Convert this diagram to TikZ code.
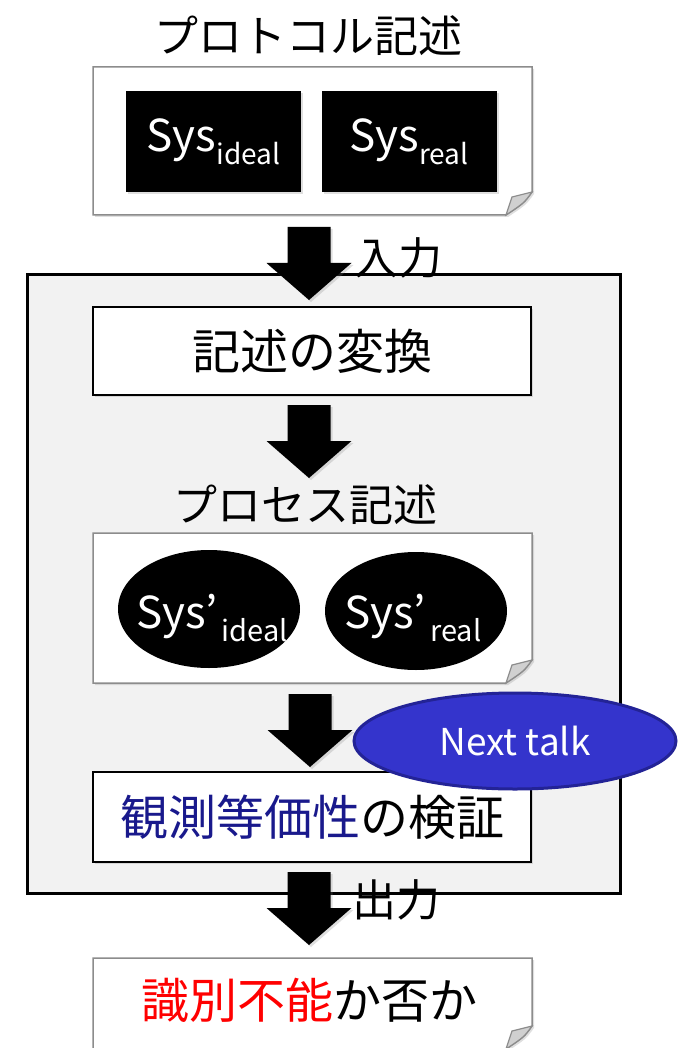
\documentclass[tikz,border=0pt]{standalone}
\usepackage{fontspec}
\newfontfamily\jp{Noto Sans CJK JP}
\usetikzlibrary{shapes.geometric,shadows}
\definecolor{panelgray}{HTML}{F2F2F2}
\definecolor{docgray}{HTML}{8C8C8C}
\definecolor{foldgray}{HTML}{D0D0D0}
\definecolor{navyblue}{RGB}{25,25,140}
\definecolor{talkblue}{RGB}{52,52,204}
\definecolor{talkedge}{RGB}{35,35,150}
\tikzset{
  softshadow/.style={drop shadow={opacity=0.25,shadow xshift=2pt,shadow yshift=-2pt}},
  bigtext/.style={font=\jp\fontsize{48}{56}\selectfont},
  doclabel/.style={font=\jp\fontsize{44}{52}\selectfont},
  arrowlabel/.style={font=\jp\fontsize{44}{52}\selectfont},
  docarea/.style={inner sep=0pt, outer sep=0pt},
  blackbox/.style={rectangle, fill=black, text=white, minimum width=175pt, minimum height=101pt, inner sep=0pt, softshadow},
  blackoval/.style={ellipse, fill=black, minimum width=182pt, minimum height=118pt, inner sep=0pt},
  ovaltext/.style={text=white, inner sep=0pt, font=\jp},
  stepbox/.style={rectangle, draw=black, line width=2.5pt, fill=white, minimum width=438pt, inner sep=0pt, softshadow, bigtext},
  talkoval/.style={ellipse, draw=talkedge, line width=3pt, fill=talkblue, text=white, minimum width=322pt, minimum height=96pt, inner sep=0pt, font=\jp\fontsize{37}{44}\selectfont},
  fatarrow/.pic={
    \fill[black, softshadow] (-21.5,-73) -- (21.5,-73) -- (21.5,-37) -- (42.5,-37) -- (0,0) -- (-42.5,-37) -- (-21.5,-37) -- cycle;
  },
}
\newcommand\docpage[1]{%
  \draw[docgray, line width=1.5pt, fill=white, softshadow]
    (#1.north west) -- (#1.north east) -- ([yshift=23pt]#1.south east)
    .. controls ([xshift=-8pt,yshift=12pt]#1.south east) .. ([xshift=-26pt]#1.south east)
    -- (#1.south west) -- cycle;
  \draw[docgray, line width=1.2pt, fill=foldgray]
    ([yshift=23pt]#1.south east) -- ([xshift=-20pt,yshift=18pt]#1.south east)
    -- ([xshift=-26pt]#1.south east)
    .. controls ([xshift=-8pt,yshift=12pt]#1.south east) .. cycle;
}
\begin{document}
\begin{tikzpicture}[x=1pt,y=-1pt]
\useasboundingbox (0,0) rectangle (679,1048);

% outer panel
\node[rectangle, draw=black, line width=3pt, fill=panelgray, minimum width=593pt, minimum height=618pt, inner sep=0pt, softshadow] (panel) at (323.5,584) {};

% top document
\node[doclabel] (protolabel) at (308,36) {プロトコル記述};
\node[docarea, minimum width=439pt, minimum height=148pt] (topdoc) at (312.5,141) {};
\docpage{topdoc}
\node[blackbox, font=\jp] (sysideal) at (213.5,141.5) {\fontsize{44}{50}\selectfont Sys\raisebox{-13pt}{\fontsize{28}{32}\selectfont ideal}};
\node[blackbox, font=\jp] (sysreal) at (409,141.5) {\fontsize{44}{50}\selectfont Sys\raisebox{-13pt}{\fontsize{28}{32}\selectfont real}};

% arrow 1
\coordinate (tip1) at (309,300);
\pic at (tip1) {fatarrow};
\node[arrowlabel] (inlabel) at (398,258) {入力};

% transformation
\node[stepbox, minimum height=88pt] (trans) at (312,351) {記述の変換};

% arrow 2
\coordinate (tip2) at (309,478);
\pic at (tip2) {fatarrow};

% process document
\node[doclabel] (proclabel) at (305,505) {プロセス記述};
\node[docarea, minimum width=439pt, minimum height=150pt] (procdoc) at (312.5,608) {};
\docpage{procdoc}
\node[blackoval] (pideal) at (209,609) {};
\node[blackoval] (preal) at (416,611) {};
\node[ovaltext] (pidealtxt) at (212,618) {\fontsize{44}{50}\selectfont Sys’\hspace{4pt}\raisebox{-13pt}{\fontsize{29}{32}\selectfont ideal}};
\node[ovaltext] (prealtxt) at (413,618) {\fontsize{44}{50}\selectfont Sys’\hspace{4pt}\raisebox{-13pt}{\fontsize{29}{32}\selectfont real}};

% arrow 3
\coordinate (tip3) at (310,767);
\pic at (tip3) {fatarrow};

% verification
\node[stepbox, minimum height=90pt] (verify) at (312,817) {\textcolor{navyblue}{観測等価性}の検証};

% next talk
\node[talkoval] (talk) at (515,741) {Next talk};

% arrow 4
\coordinate (tip4) at (309,945);
\pic at (tip4) {fatarrow};
\node[arrowlabel] (outlabel) at (396,900) {出力};

% result document
\node[docarea, minimum width=439pt, minimum height=91pt] (resdoc) at (312.5,1003.5) {};
\docpage{resdoc}
\node[bigtext] (result) at (309,1000) {\textcolor{red}{識別不能}か否か};
\end{tikzpicture}
\end{document}
